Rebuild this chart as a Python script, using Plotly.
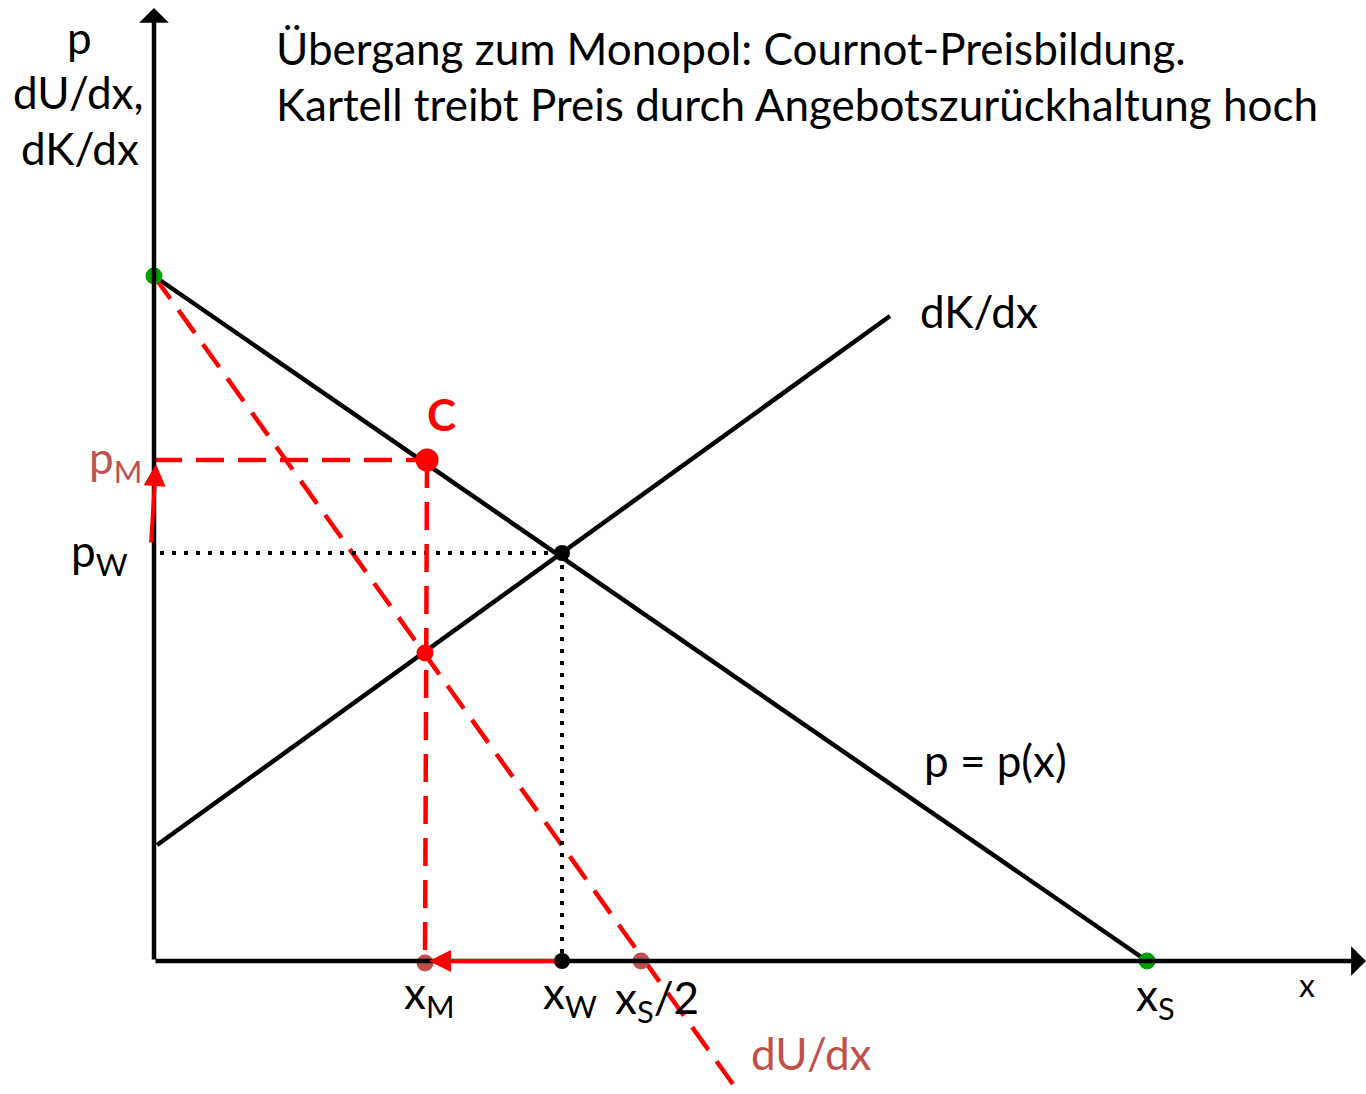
import plotly.graph_objects as go

# Market diagram: demand p(x), marginal cost dK/dx, marginal revenue dU/dx
demand_x = [0, 99.3]
demand_p = [68.5, 0]
supply_x = [0.3, 73.6]
supply_p = [11.6, 64.5]
mr_x = [0, 58.6]
mr_p = [68.5, -13.3]

x_m = 27.3      # monopoly quantity
p_m = 50.1      # monopoly price (point C)
x_w = 40.8      # competitive quantity
p_w = 40.8      # competitive price
x_s = 99.3      # saturation quantity
x_s_half = 48.7
p_max = 68.5
mr_mc_p = 30.8  # where marginal revenue meets marginal cost

FONT = "Lato"
RED = "#FF0000"
BROWN_RED = "#C0504D"
LW = 4.5

fig = go.Figure()

# demand and marginal cost
fig.add_trace(go.Scatter(x=demand_x, y=demand_p, mode="lines",
                         line=dict(color="black", width=LW), hoverinfo="skip"))
fig.add_trace(go.Scatter(x=supply_x, y=supply_p, mode="lines",
                         line=dict(color="black", width=LW), hoverinfo="skip"))
# marginal revenue (dashed red)
fig.add_trace(go.Scatter(x=mr_x, y=mr_p, mode="lines",
                         line=dict(color=RED, width=LW, dash="28px,14px"), hoverinfo="skip"))

# dotted guides to the competitive equilibrium
fig.add_trace(go.Scatter(x=[0.6, x_w], y=[p_w, p_w], mode="lines",
                         line=dict(color="black", width=4, dash="4px,8px"), hoverinfo="skip"))
fig.add_trace(go.Scatter(x=[x_w, x_w], y=[p_w, 0], mode="lines",
                         line=dict(color="black", width=4, dash="4px,8px"), hoverinfo="skip"))

# dashed red guides to the monopoly point
fig.add_trace(go.Scatter(x=[0, x_m], y=[p_m, p_m], mode="lines",
                         line=dict(color=RED, width=LW, dash="28px,14px"), hoverinfo="skip"))
fig.add_trace(go.Scatter(x=[x_m, x_m - 0.2], y=[p_m, 0], mode="lines",
                         line=dict(color=RED, width=LW, dash="28px,14px"), hoverinfo="skip"))

# axes with arrow heads
fig.add_annotation(x=0, y=95.3, ax=0, ay=0, xref="x", yref="y", axref="x", ayref="y",
                   showarrow=True, arrowhead=1, arrowsize=1.1, arrowwidth=4.5,
                   arrowcolor="black", text="")
fig.add_annotation(x=121.2, y=0, ax=0, ay=0, xref="x", yref="y", axref="x", ayref="y",
                   showarrow=True, arrowhead=1, arrowsize=1.1, arrowwidth=4.5,
                   arrowcolor="black", text="")

# red shift arrows
fig.add_annotation(x=0.2, y=p_m - 0.4, ax=-0.3, ay=p_w + 0.9, xref="x", yref="y",
                   axref="x", ayref="y", showarrow=True, arrowhead=2, arrowsize=1.1,
                   arrowwidth=4, arrowcolor=RED, text="")
fig.add_annotation(x=x_m + 0.2, y=0, ax=x_w - 0.6, ay=0, xref="x", yref="y",
                   axref="x", ayref="y", showarrow=True, arrowhead=2, arrowsize=1.1,
                   arrowwidth=4, arrowcolor=RED, text="")

# marker points
fig.add_trace(go.Scatter(x=[0, x_s], y=[p_max, 0], mode="markers",
                         marker=dict(color="#00A000", size=17), hoverinfo="skip"))
fig.add_trace(go.Scatter(x=[x_w, x_w], y=[p_w, 0], mode="markers",
                         marker=dict(color="black", size=16), hoverinfo="skip"))
fig.add_trace(go.Scatter(x=[x_m], y=[p_m], mode="markers",
                         marker=dict(color=RED, size=23), hoverinfo="skip"))
fig.add_trace(go.Scatter(x=[x_m - 0.2], y=[mr_mc_p], mode="markers",
                         marker=dict(color=RED, size=17), hoverinfo="skip"))
fig.add_trace(go.Scatter(x=[x_m - 0.2, x_s_half], y=[-0.2, 0], mode="markers",
                         marker=dict(color=BROWN_RED, size=17), hoverinfo="skip"))

def label(x, y, text, size=44, color="black", xanchor="center", bold=False):
    fig.add_annotation(x=x, y=y, xref="x", yref="y", text=text, showarrow=False,
                       xanchor=xanchor, yanchor="middle",
                       font=dict(family=FONT, size=size, color=color,
                                 weight="bold" if bold else "normal"))

# axis title on the price axis
label(-7.5, 92.4, "p")
label(-7.6, 86.9, "dU/dx,")
label(-7.4, 81.3, "dK/dx")

# heading
label(12.0, 91.3, "Übergang zum Monopol: Cournot-Preisbildung.", xanchor="left")
label(12.0, 85.7, "Kartell treibt Preis durch Angebotszurückhaltung hoch", xanchor="left")

# curve labels
label(76.4, 65.0, "dK/dx", xanchor="left")
label(76.8, 20.1, "p = p(x)", xanchor="left")
label(65.7, -9.2, "dU/dx", color=BROWN_RED)
label(28.7, 54.7, "C", color=RED, bold=True)

# price labels
label(-1.0, 50.1, "p<sub>M</sub>", color=BROWN_RED, xanchor="right")
label(-2.4, 40.8, "p<sub>W</sub>", xanchor="right")

# quantity labels
label(x_m + 0.2, -3.4, "x<sub>M</sub>")
label(x_w + 0.8, -3.4, "x<sub>W</sub>")
label(50.3, -3.9, "x<sub>S</sub>/2")
label(100.1, -3.6, "x<sub>S</sub>")
label(115.3, -2.3, "x", size=32)

fig.update_layout(
    width=1366, height=1094,
    margin=dict(l=0, r=0, t=0, b=0),
    paper_bgcolor="white", plot_bgcolor="white",
    showlegend=False,
    xaxis=dict(range=[-15.4, 121.2], visible=False, fixedrange=True),
    yaxis=dict(range=[-13.3, 96.1], visible=False, fixedrange=True),
)

fig.write_html("out.html")
